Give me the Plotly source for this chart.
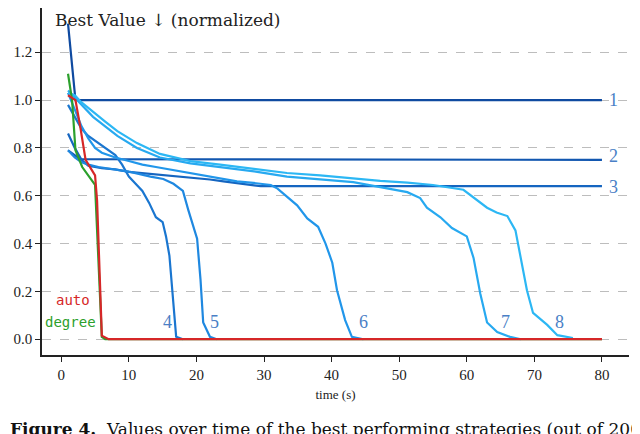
"""Best value over time for the top strategies."""

import plotly.graph_objects as go

# strategy curves 1..8 (time in s, normalized best value)
T1 = [1.0, 2.1, 80.0]
V1 = [1.32, 1.00, 1.00]

T2 = [1.0, 2.8, 80.0]
V2 = [0.79, 0.753, 0.75]

T3 = [1.0, 2.0, 3.0, 4.0, 6.0, 8.0, 10.0, 12.0, 14.0, 16.0, 18.0, 20.0, 22.0,
      24.0, 26.0, 28.0, 29.5, 80.0]
V3 = [0.86, 0.80, 0.75, 0.725, 0.715, 0.71, 0.70, 0.695, 0.69, 0.685, 0.68,
      0.675, 0.668, 0.66, 0.652, 0.646, 0.64, 0.64]

T4 = [1.0, 2.0, 3.0, 4.0, 5.0, 6.0, 7.0, 8.0, 9.0, 10.0, 11.0, 12.0, 13.0,
      14.0, 15.0, 15.5, 16.0, 16.5, 17.0, 18.0]
V4 = [0.98, 0.93, 0.88, 0.85, 0.83, 0.81, 0.79, 0.77, 0.73, 0.68, 0.65, 0.62,
      0.57, 0.51, 0.49, 0.43, 0.35, 0.17, 0.01, 0.0]

T5 = [1.0, 2.0, 3.0, 4.0, 5.5, 8.0, 10.2, 13.2, 15.1, 16.6, 18.0, 18.8, 20.1,
      20.6, 21.0, 22.0, 23.0]
V5 = [0.79, 0.76, 0.74, 0.73, 0.72, 0.71, 0.70, 0.68, 0.67, 0.65, 0.62, 0.54,
      0.42, 0.25, 0.07, 0.01, 0.0]

T6 = [1.0, 2.0, 3.0, 4.0, 5.0, 6.0, 8.0, 10.0, 12.0, 14.0, 16.0, 18.0, 20.0,
      22.0, 24.0, 26.0, 28.0, 30.0, 31.0, 32.0, 33.4, 34.9, 36.4, 38.0, 39.1,
      40.1, 40.8, 42.0, 43.0, 44.7]
V6 = [1.03, 0.96, 0.89, 0.84, 0.80, 0.78, 0.76, 0.745, 0.73, 0.72, 0.71, 0.70,
      0.69, 0.68, 0.67, 0.66, 0.655, 0.65, 0.645, 0.63, 0.595, 0.56, 0.505,
      0.47, 0.40, 0.32, 0.205, 0.08, 0.01, 0.0]

T7 = [1.0, 2.0, 3.0, 4.7, 6.5, 8.3, 11.2, 14.6, 19.1, 23.5, 26.0, 29.0, 33.4,
      38.3, 43.2, 47.2, 51.2, 53.1, 54.1, 56.1, 57.8, 60.0, 61.0, 62.0, 63.0,
      64.5, 66.4, 68.0]
V7 = [1.04, 1.01, 0.98, 0.93, 0.89, 0.85, 0.80, 0.76, 0.735, 0.72, 0.71, 0.70,
      0.68, 0.67, 0.657, 0.636, 0.615, 0.59, 0.55, 0.51, 0.465, 0.43, 0.34,
      0.19, 0.07, 0.03, 0.01, 0.0]

T8 = [1.0, 2.0, 3.0, 4.7, 6.5, 8.3, 11.2, 14.6, 19.1, 23.5, 29.0, 33.4, 38.3,
      43.2, 47.2, 51.2, 53.1, 55.0, 59.5, 61.5, 63.0, 64.4, 66.0, 67.2, 67.9,
      68.9, 69.8, 71.9, 73.4, 75.7]
V8 = [1.03, 1.02, 0.99, 0.95, 0.91, 0.87, 0.82, 0.775, 0.745, 0.73, 0.71,
      0.695, 0.685, 0.672, 0.662, 0.655, 0.65, 0.645, 0.625, 0.58, 0.55, 0.53,
      0.515, 0.455, 0.345, 0.205, 0.11, 0.06, 0.017, 0.005]

# baselines
T_DEGREE = [1.0, 1.6, 2.1, 3.1, 5.0, 5.4, 6.0, 6.5, 80.0]
V_DEGREE = [1.11, 1.00, 0.79, 0.72, 0.645, 0.40, 0.01, 0.0, 0.0]

T_AUTO = [1.0, 2.1, 2.8, 3.6, 5.0, 5.3, 6.0, 7.0, 80.0]
V_AUTO = [1.02, 1.00, 0.89, 0.75, 0.685, 0.58, 0.015, 0.0, 0.0]

CURVES = [(T1, V1), (T2, V2), (T3, V3), (T4, V4),
          (T5, V5), (T6, V6), (T7, V7), (T8, V8)]
CURVE_COLORS = ["#0f4aa0", "#1257b0", "#1565c0", "#1a76d0",
                "#1f88e0", "#2196ea", "#27a9f0", "#2cb7f4"]

LABELS = ["1", "2", "3", "4", "5", "6", "7", "8"]
LABEL_X = [81.7, 81.7, 81.7, 15.7, 22.7, 44.7, 65.8, 73.7]
LABEL_Y = [1.0, 0.766, 0.636, 0.071, 0.071, 0.071, 0.071, 0.071]

SERIF = "Liberation Serif"
WIDE_SERIF = "DejaVu Serif"
MONO = "DejaVu Sans Mono"

fig = go.Figure()

for (t, v), color in zip(CURVES, CURVE_COLORS):
    fig.add_trace(go.Scatter(x=t, y=v, mode="lines",
                             line=dict(color=color, width=2.2)))

fig.add_trace(go.Scatter(x=T_DEGREE, y=V_DEGREE, mode="lines",
                         line=dict(color="#2ca02c", width=2.2)))
fig.add_trace(go.Scatter(x=T_AUTO, y=V_AUTO, mode="lines",
                         line=dict(color="#d62728", width=2.2)))

for text, x, y in zip(LABELS, LABEL_X, LABEL_Y):
    fig.add_annotation(x=x, y=y, text=text, showarrow=False,
                       xanchor="center", yanchor="middle",
                       font=dict(family=SERIF, size=18, color="#4a7fc6"))

fig.add_annotation(x=1.8, y=0.163, text="auto", showarrow=False,
                   xanchor="center", yanchor="middle",
                   font=dict(family=MONO, size=14, color="#d62728"))
fig.add_annotation(x=1.3, y=0.071, text="degree", showarrow=False,
                   xanchor="center", yanchor="middle",
                   font=dict(family=MONO, size=14, color="#2ca02c"))

# y-axis title sits on top of the axis, matplotlib style
fig.add_annotation(xref="paper", yref="paper", x=0.018, y=1.0,
                   xanchor="left", yanchor="top",
                   text="Best Value ↓ (normalized)", showarrow=False,
                   font=dict(family=WIDE_SERIF, size=17, color="#222"))

fig.add_annotation(xref="paper", yref="paper", x=-0.058, y=-0.18,
                   xanchor="left", yanchor="top", align="left",
                   text="<b>Figure 4.</b>  Values over time of the best "
                        "performing strategies (out of 200",
                   showarrow=False,
                   font=dict(family=WIDE_SERIF, size=17, color="#111"))

fig.update_layout(
    width=640,
    height=434,
    margin=dict(l=34, r=19, t=0, b=87),
    plot_bgcolor="white",
    paper_bgcolor="white",
    showlegend=False,
    font=dict(family=SERIF, size=15, color="#222"),
)
fig.update_xaxes(
    range=[-2.85, 84],
    tickvals=[0, 10, 20, 30, 40, 50, 60, 70, 80],
    ticks="outside", ticklen=5, tickwidth=1.2, tickcolor="#222",
    showline=True, linecolor="#222", linewidth=1.6,
    showgrid=False, zeroline=False,
    title=dict(text="time (s)", font=dict(family=SERIF, size=13), standoff=8),
    tickfont=dict(family=SERIF, size=15),
)
fig.update_yaxes(
    range=[-0.066, 1.385],
    tickvals=[0.0, 0.2, 0.4, 0.6, 0.8, 1.0, 1.2],
    ticktext=["0.0", "0.2", "0.4", "0.6", "0.8", "1.0", "1.2"],
    ticks="outside", ticklen=5, tickwidth=1.2, tickcolor="#222",
    showline=True, linecolor="#222", linewidth=1.6,
    showgrid=True, gridcolor="#bdbdbd", griddash="dash", gridwidth=0.8,
    zeroline=False,
    tickfont=dict(family=SERIF, size=15),
)

fig.write_html("out.html")
